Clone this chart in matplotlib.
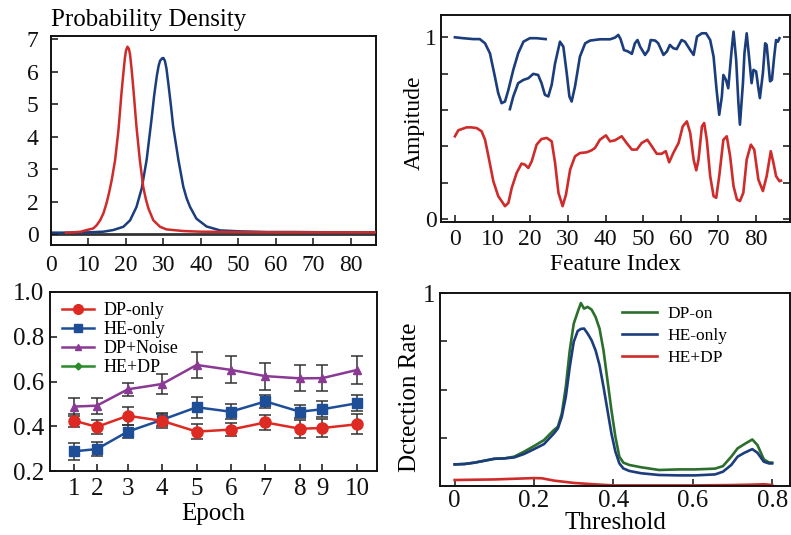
import matplotlib
matplotlib.use("Agg")
import matplotlib.pyplot as plt
from matplotlib.lines import Line2D

plt.rcParams['font.family'] = ['Liberation Serif', 'DejaVu Serif']

# ---------------- Probability density (top left) ----------------
dens_red_x = [4, 6, 8, 9.5, 11.3, 12.2, 13.1, 14.0, 14.8, 15.5, 16.2, 17.1, 18.0, 18.8, 19.3, 19.7,
              20.0, 20.4, 20.8, 21.1, 21.5, 22.0, 22.8, 23.7, 24.6, 25.3, 26.0, 27.3, 29.1, 30.8,
              35.3, 39.7, 50, 60, 70, 87]
dens_red_y = [1.05, 1.06, 1.08, 1.13, 1.18, 1.28, 1.43, 1.65, 1.95, 2.28, 2.67, 3.28, 4.21, 5.34, 5.95,
              6.41, 6.65, 6.77, 6.70, 6.52, 6.08, 5.44, 4.31, 3.28, 2.46, 2.08, 1.79, 1.43, 1.23, 1.15,
              1.10, 1.08, 1.07, 1.06, 1.06, 1.06]
dens_blue_x = [0, 5, 10, 14, 16.6, 19.3, 21.1, 22.8, 24.2, 25.5, 26.8, 27.5, 28.2, 28.7, 29.1, 29.7,
               30.0, 30.4, 30.8, 31.3, 32.0, 32.6, 34.0, 35.3, 36.2, 37.1, 38.8, 41.5, 45.1, 50.4,
               57.5, 65, 75, 87]
dens_blue_y = [1.05, 1.05, 1.06, 1.08, 1.13, 1.23, 1.43, 1.84, 2.41, 3.28, 4.52, 5.25, 5.85, 6.18, 6.34,
               6.42, 6.42, 6.33, 6.10, 5.64, 4.95, 4.31, 3.28, 2.46, 2.10, 1.84, 1.48, 1.24, 1.12, 1.09,
               1.07, 1.07, 1.06, 1.06]
dens_baseline = 1.0
dens_xticks = [0, 10, 20, 30, 40, 50, 60, 70, 80]
dens_ytick_pos = [1, 2, 3, 4, 5, 6, 7]
dens_ytick_labels = ['0', '2', '3', '4', '5', '6', '7']

# ---------------- Amplitude traces (top right) ----------------
amp_blue1_x = [0, 2.2, 4.9, 6.6, 8.0, 9.3, 10.6, 11.5, 12.4, 13.3, 14.2, 15.5, 16.8, 18.2, 19.9, 21.7, 24.1]
amp_blue1_y = [1.0, 0.995, 0.99, 0.99, 0.967, 0.912, 0.785, 0.693, 0.638, 0.647, 0.711, 0.821, 0.912,
               0.976, 0.995, 0.995, 0.99]
amp_blue2_x = [14.6, 15.5, 16.8, 18.2, 19.5, 20.8, 22.1, 23.0, 23.9, 24.8, 25.7, 26.6, 27.9, 28.8, 29.7,
               30.4, 31.0, 31.9, 33.2, 34.6, 35.9, 38.5, 41.2, 42.5, 43.4, 44.0, 44.9, 46.0, 47.0, 47.8,
               48.5, 49.2, 50.5, 51.4, 52.0, 53.2, 54.0, 55.4, 56.3, 57.1, 58.0, 58.9, 60.2, 61.1, 62.5,
               63.4, 64.3, 65.6, 66.7, 67.8, 68.7, 69.5, 70.2, 70.9, 71.3, 72.0, 72.6, 73.5, 74.0, 74.7,
               75.3, 75.7, 76.5, 76.9, 77.5, 78.2, 78.8, 79.3, 80.0, 80.6, 81.0, 81.8, 82.4, 82.8, 83.7,
               84.2, 84.8, 85.3, 85.8, 86.2]
amp_blue2_y = [0.605, 0.675, 0.748, 0.766, 0.775, 0.799, 0.793, 0.748, 0.684, 0.675, 0.739, 0.857, 0.976,
               0.948, 0.802, 0.675, 0.647, 0.730, 0.894, 0.967, 0.982, 0.989, 0.989, 0.998, 1.013, 0.99,
               0.93, 0.922, 0.909, 0.967, 0.985, 0.948, 0.903, 0.93, 0.985, 0.982, 0.967, 0.903, 0.922,
               0.958, 0.94, 0.935, 0.985, 0.976, 0.93, 0.903, 1.004, 1.022, 1.022, 0.985, 0.894, 0.711,
               0.574, 0.675, 0.793, 0.766, 0.72, 0.93, 1.031, 0.876, 0.638, 0.52, 0.748, 0.912, 1.022,
               0.876, 0.748, 0.821, 0.812, 0.72, 0.666, 0.803, 0.967, 0.958, 0.758, 0.766, 0.894, 0.985,
               0.976, 0.995]
amp_red_x = [0, 0.9, 3.1, 4.4, 5.8, 7.1, 8.0, 8.9, 10.2, 11.5, 12.4, 13.3, 14.2, 15.1, 16.4, 17.7, 18.6,
             19.5, 20.4, 21.7, 23.0, 24.4, 25.7, 26.6, 27.5, 28.6, 29.5, 30.6, 31.9, 33.2, 35.0, 36.3,
             37.2, 38.5, 40.1, 41.2, 42.5, 44.3, 45.6, 47.0, 48.3, 49.6, 51.1, 52.3, 53.6, 54.9, 56.0,
             56.9, 58.0, 59.4, 60.5, 61.6, 62.5, 63.4, 64.1, 64.7, 65.6, 66.2, 66.9, 67.8, 68.7, 69.4,
             70.2, 71.3, 72.2, 73.1, 74.0, 74.9, 75.7, 76.6, 77.5, 78.6, 79.5, 80.6, 81.8, 82.8, 83.9,
             84.6, 85.3, 86.2, 86.6]
amp_red_y = [0.456, 0.489, 0.505, 0.505, 0.501, 0.483, 0.437, 0.346, 0.209, 0.127, 0.1, 0.072, 0.09,
             0.173, 0.255, 0.306, 0.3, 0.282, 0.319, 0.41, 0.441, 0.447, 0.428, 0.31, 0.145, 0.072,
             0.136, 0.273, 0.346, 0.364, 0.368, 0.379, 0.392, 0.437, 0.461, 0.428, 0.434, 0.456, 0.419,
             0.383, 0.383, 0.419, 0.437, 0.401, 0.36, 0.36, 0.374, 0.313, 0.364, 0.419, 0.51, 0.538,
             0.474, 0.328, 0.269, 0.328, 0.51, 0.529, 0.437, 0.237, 0.127, 0.118, 0.237, 0.437, 0.456,
             0.346, 0.182, 0.109, 0.1, 0.145, 0.328, 0.41, 0.383, 0.218, 0.155, 0.237, 0.374, 0.31,
             0.237, 0.209, 0.212]
amp_xticks = [0, 10, 20, 30, 40, 50, 60, 70, 80]
amp_yticks = [0, 0.2, 0.4, 0.6, 0.8, 1.0]
amp_ytick_labels = ['0', '', '', '', '', '1']

# ---------------- Metric per epoch (bottom left) ----------------
epochs = [1, 2, 3, 4, 5, 6, 7, 8, 9, 10]
epoch_pos = [1.0, 1.66, 2.56, 3.56, 4.56, 5.55, 6.56, 7.56, 8.21, 9.23]
dp_only = [0.425, 0.397, 0.447, 0.424, 0.376, 0.385, 0.417, 0.389, 0.392, 0.409]
dp_only_err = [0.03, 0.03, 0.04, 0.03, 0.035, 0.03, 0.035, 0.04, 0.04, 0.045]
he_only = [0.288, 0.298, 0.376, 0.429, 0.485, 0.465, 0.511, 0.465, 0.476, 0.503]
he_only_err = [0.038, 0.03, 0.03, 0.03, 0.047, 0.033, 0.028, 0.03, 0.035, 0.035]
dp_noise = [0.488, 0.492, 0.565, 0.589, 0.674, 0.652, 0.624, 0.614, 0.615, 0.652]
dp_noise_err = [0.04, 0.036, 0.028, 0.045, 0.058, 0.06, 0.06, 0.058, 0.058, 0.062]
epoch_yticks = [0.2, 0.4, 0.6, 0.8, 1.0]
epoch_ytick_labels = ['0.2', '0.4', '0.6', '0.8', '1.0']

# ---------------- Detection rate vs threshold (bottom right) ----------------
thr = [0, 0.025, 0.05, 0.075, 0.1, 0.125, 0.15, 0.175, 0.2, 0.225, 0.25, 0.26, 0.27, 0.28, 0.29,
       0.30, 0.31, 0.318, 0.326, 0.335, 0.345, 0.355, 0.365, 0.375, 0.385, 0.395, 0.405, 0.415,
       0.425, 0.44, 0.47, 0.515, 0.565, 0.606, 0.656, 0.676, 0.697, 0.713, 0.73, 0.75, 0.763,
       0.779, 0.792, 0.8]
det_dp_on = [0.112, 0.114, 0.121, 0.131, 0.141, 0.143, 0.152, 0.178, 0.207, 0.238, 0.29, 0.307, 0.376,
             0.514, 0.703, 0.841, 0.902, 0.948, 0.919, 0.928, 0.914, 0.876, 0.816, 0.703, 0.548,
             0.393, 0.255, 0.152, 0.121, 0.109, 0.097, 0.083, 0.086, 0.086, 0.09, 0.103, 0.152,
             0.195, 0.217, 0.241, 0.212, 0.138, 0.122, 0.121]
det_he_only = [0.112, 0.114, 0.121, 0.131, 0.141, 0.143, 0.148, 0.166, 0.191, 0.217, 0.272, 0.298,
               0.359, 0.462, 0.617, 0.747, 0.803, 0.814, 0.816, 0.79, 0.755, 0.703, 0.626, 0.514,
               0.393, 0.272, 0.178, 0.117, 0.091, 0.078, 0.066, 0.057, 0.055, 0.055, 0.06, 0.074,
               0.109, 0.152, 0.172, 0.191, 0.172, 0.126, 0.117, 0.117]
thr_hedp = [0, 0.1, 0.2, 0.22, 0.25, 0.3, 0.35, 0.4, 0.5, 0.6, 0.7, 0.75, 0.78, 0.8]
det_he_dp = [0.031, 0.034, 0.041, 0.04, 0.028, 0.016, 0.009, 0.003, 0.003, 0.003, 0.005, 0.007,
             0.009, 0.005]
thr_xticks = [0, 0.2, 0.4, 0.6, 0.8]
thr_xtick_labels = ['0', '0.2', '0.4', '0.6', '0.8']
det_yticks = [0.25, 0.5, 0.75, 1.0]
det_ytick_labels = ['', '', '', '1']

RED = '#cf2b2b'
NAVY = '#1b3d7c'
GREEN = '#2c6e2c'

W, H = 791, 535
fig = plt.figure(figsize=(W / 100, H / 100), dpi=100)


def rect(left, top, right, bottom):
    return [left / W, 1 - bottom / H, (right - left) / W, (bottom - top) / H]


def style_axis(ax, size):
    for s in ax.spines.values():
        s.set_linewidth(1.4)
        s.set_color('#111111')
    ax.tick_params(direction='in', length=5, width=1.1, labelsize=size, colors='#111111')


# --- top left ---
ax1 = fig.add_axes(rect(51, 36, 376, 245))
style_axis(ax1, 17)
ax1.axhline(dens_baseline, color='#333333', lw=2.0, zorder=1)
ax1.plot(dens_red_x, dens_red_y, color=RED, lw=1.8, zorder=3)
ax1.plot(dens_blue_x, dens_blue_y, color=NAVY, lw=1.8, zorder=2)
ax1.set_xlim(0, 86.7)
ax1.set_ylim(0.67, 7.1)
ax1.set_xticks(dens_xticks)
ax1.set_yticks(dens_ytick_pos)
ax1.set_yticklabels(dens_ytick_labels)
ax1.tick_params(axis='y', pad=9)
ax1.tick_params(axis='x', pad=7)
ax1.set_title('Probability Density', loc='left', fontsize=18, pad=7, x=0.0)

# --- top right ---
ax2 = fig.add_axes(rect(441, 15, 790, 222))
style_axis(ax2, 17)
ax2.plot(amp_blue1_x, amp_blue1_y, color=NAVY, lw=1.9)
ax2.plot(amp_blue2_x, amp_blue2_y, color=NAVY, lw=1.9)
ax2.plot(amp_red_x, amp_red_y, color=RED, lw=1.9)
ax2.set_xlim(-3.7, 89.0)
ax2.set_ylim(-0.015, 1.1225)
ax2.set_xticks(amp_xticks)
ax2.set_yticks(amp_yticks)
ax2.set_yticklabels(amp_ytick_labels)
ax2.tick_params(axis='y', right=True, pad=3)
ax2.tick_params(axis='x', pad=5)
ax2.set_xlabel('Feature Index', fontsize=17, labelpad=3)
ax2.set_ylabel('Ampitude', fontsize=17)
ax2.yaxis.set_label_coords(-0.046, 0.48)

# --- bottom left ---
ax3 = fig.add_axes(rect(50, 292, 377, 471))
style_axis(ax3, 18)
ekw = dict(ecolor='#333333', elinewidth=1.1, capsize=4, capthick=1.1)
ax3.errorbar(epoch_pos, dp_noise, yerr=dp_noise_err, color='#8a3a95', lw=1.8, marker='^',
             ms=6, zorder=3, **ekw)
ax3.errorbar(epoch_pos, he_only, yerr=he_only_err, color='#1f4e98', lw=1.8, marker='s',
             ms=7, zorder=4, **ekw)
ax3.errorbar(epoch_pos, dp_only, yerr=dp_only_err, color='#dd2a22', lw=1.8, marker='o',
             ms=8, zorder=5, **ekw)
handles = [
    Line2D([], [], color='#dd2a22', lw=1.8, marker='o', ms=7),
    Line2D([], [], color='#1f4e98', lw=1.8, marker='s', ms=6),
    Line2D([], [], color='#8a3a95', lw=1.8, marker='^', ms=5),
    Line2D([], [], color='#2a8a2a', lw=1.8, marker='D', ms=3.5),
]
ax3.legend(handles, ['DP-only', 'HE-only', 'DP+Noise', 'HE+DP'], loc='upper left',
           bbox_to_anchor=(0.015, 0.985), frameon=False, fontsize=13, handlelength=1.75,
           handletextpad=0.55, labelspacing=0.12, borderaxespad=0)
ax3.set_xlim(0.30, 9.80)
ax3.set_ylim(0.2, 1.0)
ax3.set_xticks(epoch_pos)
ax3.set_xticklabels([str(e) for e in epochs])
ax3.set_yticks(epoch_yticks)
ax3.set_yticklabels(epoch_ytick_labels)
ax3.tick_params(axis='y', pad=4)
ax3.tick_params(axis='x', pad=5)
ax3.set_xlabel('Epoch', fontsize=18, labelpad=2)

# --- bottom right ---
ax4 = fig.add_axes(rect(440, 293, 790, 486))
style_axis(ax4, 18)
ax4.plot(thr, det_dp_on, color=GREEN, lw=1.9, label='DP-on')
ax4.plot(thr, det_he_only, color=NAVY, lw=1.9, label='HE-only')
ax4.plot(thr_hedp, det_he_dp, color=RED, lw=1.9, label='HE+DP')
ax4.set_xlim(-0.037, 0.845)
ax4.set_ylim(0, 1.0)
ax4.set_xticks(thr_xticks)
ax4.set_xticklabels(thr_xtick_labels)
ax4.set_yticks(det_yticks)
ax4.set_yticklabels(det_ytick_labels)
ax4.tick_params(axis='y', pad=3)
ax4.tick_params(axis='x', pad=3)
ax4.set_xlabel('Threshold', fontsize=18, labelpad=0)
ax4.set_ylabel('Dctection Rate', fontsize=18)
ax4.yaxis.set_label_coords(-0.054, 0.46)
ax4.legend(loc='upper left', bbox_to_anchor=(0.50, 0.97), frameon=False, fontsize=12.5,
           handlelength=2.0, handletextpad=0.6, labelspacing=0.35, borderaxespad=0)

fig.savefig('out.png', dpi=100)
